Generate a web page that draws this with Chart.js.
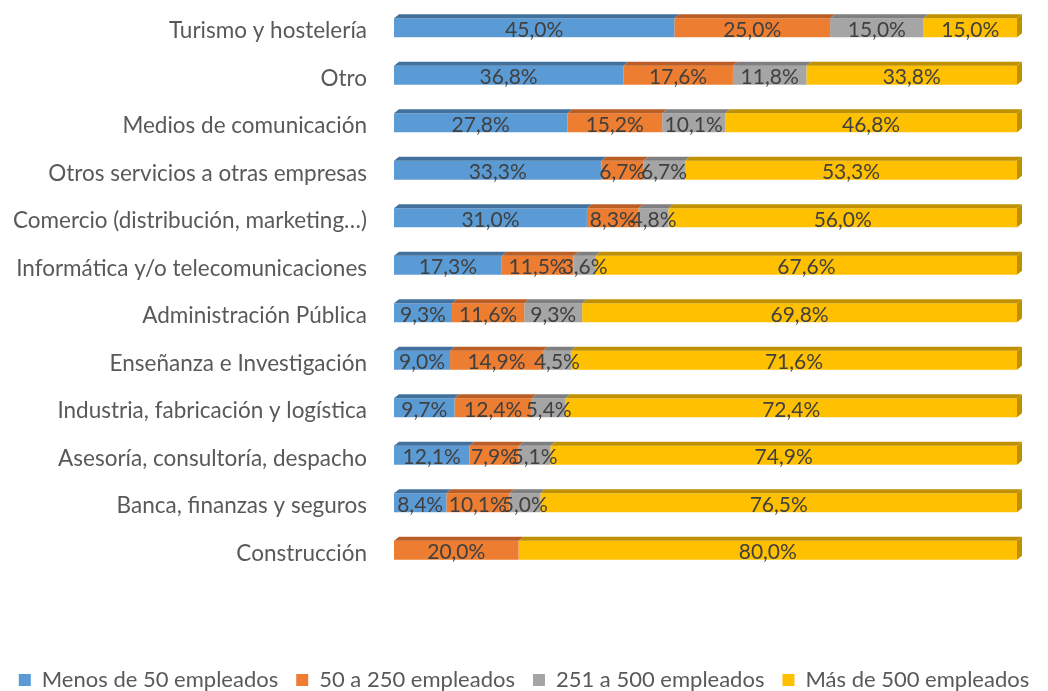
<!DOCTYPE html>
<html>
<head>
<meta charset="utf-8">
<script src="https://cdn.jsdelivr.net/npm/chart.js@4/dist/chart.umd.min.js"></script>
<style>
  html, body { margin: 0; padding: 0; background: #fff; }
  #wrap { width: 1048px; height: 691px; }
</style>
</head>
<body>
<div id="wrap"><canvas id="sectoresChart"></canvas></div>
<script>
// Datos: porcentaje de empresas por tamaño en cada sector
const sectores = [
    "Turismo y hostelería",
    "Otro",
    "Medios de comunicación",
    "Otros servicios a otras empresas",
    "Comercio (distribución, marketing…)",
    "Informática y/o telecomunicaciones",
    "Administración Pública",
    "Enseñanza e Investigación",
    "Industria, fabricación y logística",
    "Asesoría, consultoría, despacho",
    "Banca, finanzas y seguros",
    "Construcción"
];
const menos50 = [45.0, 36.8, 27.8, 33.3, 31.0, 17.3, 9.3, 9.0, 9.7, 12.1, 8.4, 0];
const de50a250 = [25.0, 17.6, 15.2, 6.7, 8.3, 11.5, 11.6, 14.9, 12.4, 7.9, 10.1, 20.0];
const de251a500 = [15.0, 11.8, 10.1, 6.7, 4.8, 3.6, 9.3, 4.5, 5.4, 5.1, 5.0, 0];
const mas500 = [15.0, 33.8, 46.8, 53.3, 56.0, 67.6, 69.8, 71.6, 72.4, 74.9, 76.5, 80.0];

const series = [
    { label: "Menos de 50 empleados", valores: menos50, color: "#5B9BD5", techo: "#41719C" },
    { label: "50 a 250 empleados", valores: de50a250, color: "#ED7D31", techo: "#BA5E25" },
    { label: "251 a 500 empleados", valores: de251a500, color: "#A5A5A5", techo: "#7F7F7F" },
    { label: "Más de 500 empleados", valores: mas500, color: "#FFC000", techo: "#BF9000" }
];

const FUENTE = "Lato";
const FONDO_X = 5;
const FONDO_Y = 4;

// 100% apilado: cada barra se reparte sobre su propio total
const totales = sectores.map((_, i) => series.reduce((s, d) => s + d.valores[i], 0));

function formato(v) {
    return v.toFixed(1).replace(".", ",") + "%";
}

// Caras superior y lateral (efecto 3D) y etiquetas de datos
const relieve = {
    id: "relieve",
    afterDatasetsDraw(chart) {
        const ctx = chart.ctx;
        const ultima = chart.data.datasets.length - 1;
        ctx.save();
        chart.data.datasets.forEach((ds, d) => {
            chart.getDatasetMeta(d).data.forEach((bar, i) => {
                if (series[d].valores[i] === 0) return;
                const x0 = Math.min(bar.base, bar.x);
                const x1 = Math.max(bar.base, bar.x);
                const arriba = bar.y - bar.height / 2;
                const abajo = bar.y + bar.height / 2;
                ctx.fillStyle = series[d].techo;
                ctx.beginPath();
                ctx.moveTo(x0, arriba);
                ctx.lineTo(x0 + FONDO_X, arriba - FONDO_Y);
                ctx.lineTo(x1 + FONDO_X, arriba - FONDO_Y);
                ctx.lineTo(x1, arriba);
                ctx.closePath();
                ctx.fill();
                if (d === ultima) {
                    ctx.beginPath();
                    ctx.moveTo(x1, arriba);
                    ctx.lineTo(x1 + FONDO_X, arriba - FONDO_Y);
                    ctx.lineTo(x1 + FONDO_X, abajo - FONDO_Y);
                    ctx.lineTo(x1, abajo);
                    ctx.closePath();
                    ctx.fill();
                }
            });
        });
        ctx.fillStyle = "#404040";
        ctx.font = "21px " + FUENTE;
        ctx.textAlign = "center";
        ctx.textBaseline = "middle";
        chart.data.datasets.forEach((ds, d) => {
            chart.getDatasetMeta(d).data.forEach((bar, i) => {
                const v = series[d].valores[i];
                if (v === 0) return;
                ctx.fillText(formato(v), (bar.base + bar.x) / 2, bar.y + 2);
            });
        });
        ctx.restore();
    }
};

const ctx = document.getElementById("sectoresChart").getContext("2d");

new Chart(ctx, {
    type: "bar",
    data: {
        labels: sectores,
        datasets: series.map(s => ({
            label: s.label,
            data: s.valores.map((v, i) => v / totales[i] * 100),
            backgroundColor: s.color,
            borderWidth: 0,
            categoryPercentage: 1,
            barPercentage: 0.4
        }))
    },
    options: {
        indexAxis: "y",
        responsive: true,
        maintainAspectRatio: false,
        animation: false,
        layout: { padding: { top: 4, right: 0, bottom: -10, left: 0 } },
        scales: {
            x: {
                stacked: true,
                min: 0,
                max: 100,
                grid: { display: false },
                border: { display: false },
                ticks: { display: false },
                afterFit: scale => { scale.height = 77; }
            },
            y: {
                stacked: true,
                grid: { display: false, drawTicks: false },
                border: { display: false },
                ticks: {
                    color: "#595959",
                    font: { family: FUENTE, size: 22.5 },
                    padding: 27,
                    labelOffset: 3
                },
                afterFit: scale => {
                    scale.width = 394;
                    scale.paddingTop = 0;
                    scale.paddingBottom = 0;
                }
            },
            // margen derecho para el fondo 3D, sin recortar la leyenda
            margenDerecho: {
                axis: "y",
                type: "linear",
                position: "right",
                grid: { display: false },
                border: { display: false },
                ticks: { display: false },
                afterFit: scale => { scale.width = 31; }
            }
        },
        plugins: {
            legend: {
                position: "bottom",
                labels: {
                    color: "#595959",
                    font: { family: FUENTE, size: 22 },
                    boxWidth: 12,
                    boxHeight: 12,
                    padding: 18
                }
            },
            tooltip: { enabled: false }
        }
    },
    plugins: [relieve]
});
</script>
</body>
</html>
